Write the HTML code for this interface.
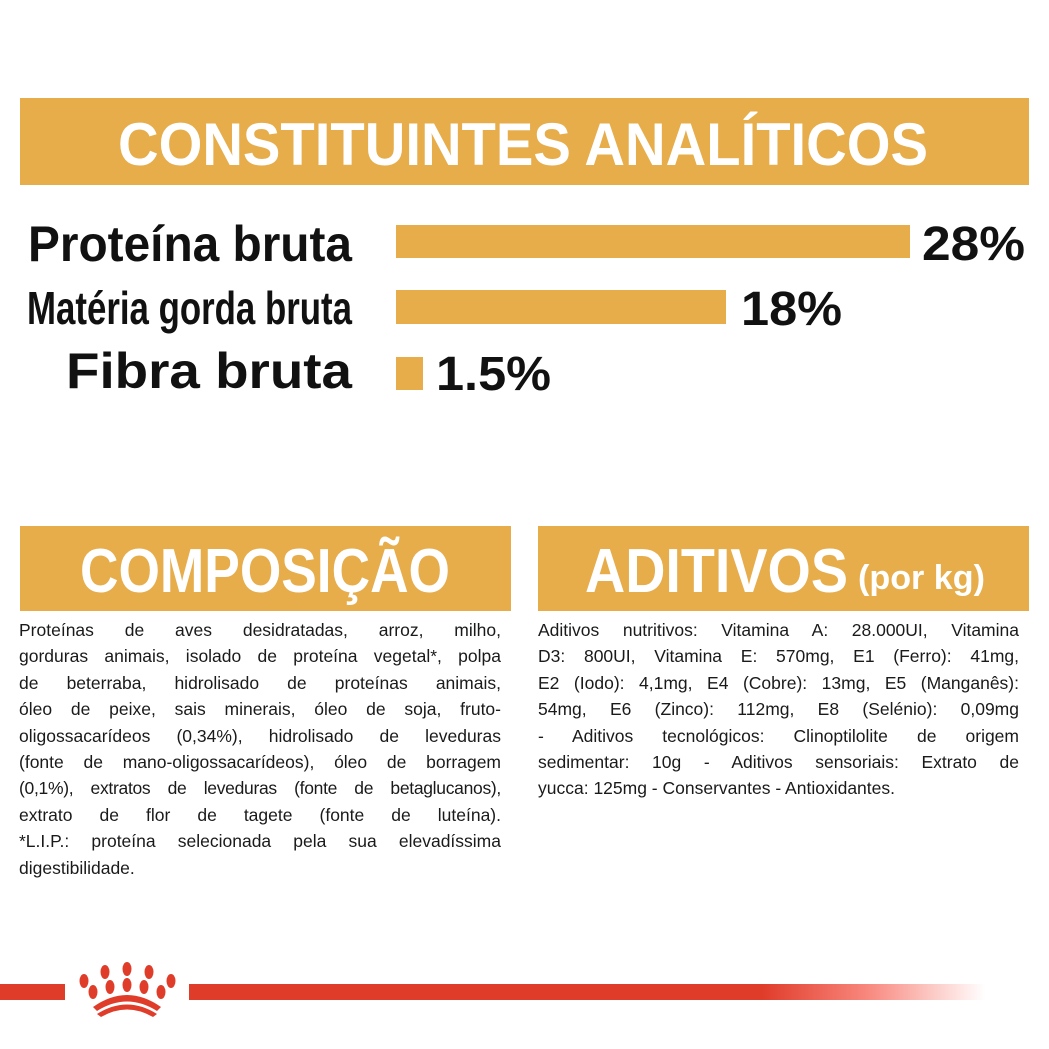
<!DOCTYPE html>
<html><head><meta charset="utf-8">
<style>
html,body{margin:0;padding:0;background:#fff;}
body{width:1049px;height:1049px;position:relative;overflow:hidden;font-family:"Liberation Sans",sans-serif;}
svg{position:absolute;left:0;top:0;}
.txt{position:absolute;font-size:17.5px;line-height:26.4px;color:#1a1a1a;}
.txt div{text-align:justify;text-align-last:justify;white-space:nowrap;}
.txt div.l{text-align-last:left;}
</style></head><body>
<svg width="1049" height="1049" viewBox="0 0 1049 1049">
<defs><linearGradient id="g" x1="0" x2="1"><stop offset="0" stop-color="#e03c2a"/><stop offset="0.72" stop-color="#e03c2a"/><stop offset="0.85" stop-color="#f8867c"/><stop offset="1" stop-color="#fff"/></linearGradient></defs>
<rect x="20" y="98" width="1009" height="87" fill="#E6AD4A"/>
<text x="118" y="165" textLength="810" lengthAdjust="spacingAndGlyphs" font-family="Liberation Sans" font-weight="bold" font-size="60" fill="#fff">CONSTITUINTES ANALÍTICOS</text>
<g font-family="Liberation Sans" font-weight="bold" fill="#111">
<text x="28" y="261" textLength="324" lengthAdjust="spacingAndGlyphs" font-size="50">Proteína bruta</text>
<text x="27" y="324" textLength="325" lengthAdjust="spacingAndGlyphs" font-size="46">Matéria gorda bruta</text>
<text x="66" y="388" textLength="286" lengthAdjust="spacingAndGlyphs" font-size="50">Fibra bruta</text>
<text x="922" y="260" textLength="103" lengthAdjust="spacingAndGlyphs" font-size="48">28%</text>
<text x="741" y="325" textLength="101" lengthAdjust="spacingAndGlyphs" font-size="48">18%</text>
<text x="436" y="390" textLength="115" lengthAdjust="spacingAndGlyphs" font-size="48">1.5%</text>
</g>
<rect x="396" y="225" width="514" height="33" fill="#E6AD4A"/>
<rect x="396" y="290" width="330" height="34" fill="#E6AD4A"/>
<rect x="396" y="357" width="27" height="33" fill="#E6AD4A"/>
<rect x="20" y="526" width="491" height="85" fill="#E6AD4A"/>
<rect x="538" y="526" width="491" height="85" fill="#E6AD4A"/>
<g font-family="Liberation Sans" font-weight="bold" fill="#fff">
<text x="80" y="592" textLength="370" lengthAdjust="spacingAndGlyphs" font-size="62">COMPOSIÇÃO</text>
<text x="585" y="592" textLength="263" lengthAdjust="spacingAndGlyphs" font-size="62">ADITIVOS</text>
<text x="858" y="589" textLength="127" lengthAdjust="spacingAndGlyphs" font-size="34">(por kg)</text>
</g>
<rect x="0" y="984" width="65" height="16" fill="#e03c2a"/>
<rect x="189" y="984" width="796" height="16" fill="url(#g)"/>
<g fill="#e03c2a">
<ellipse cx="105" cy="972" rx="4.5" ry="7"/>
<ellipse cx="127" cy="969" rx="4.5" ry="7"/>
<ellipse cx="149" cy="972" rx="4.5" ry="7"/>
<ellipse cx="84" cy="981" rx="4.5" ry="7"/>
<ellipse cx="171" cy="981" rx="4.5" ry="7"/>
<ellipse cx="93" cy="992" rx="4.5" ry="7"/>
<ellipse cx="110" cy="987" rx="4.5" ry="7"/>
<ellipse cx="127" cy="985" rx="4.5" ry="7"/>
<ellipse cx="144" cy="987" rx="4.5" ry="7"/>
<ellipse cx="161" cy="992" rx="4.5" ry="7"/>
<path d="M93 1007 Q127 983 161 1007 L157 1011 Q127 992 97 1011 Z"/>
<path d="M97 1014 Q127 995 157 1014 L153 1017 Q127 1002 101 1017 Z"/>
</g>
</svg>
<div class="txt" style="left:19px;top:617px;width:482px;">
<div>Proteínas de aves desidratadas, arroz, milho,</div>
<div>gorduras animais, isolado de proteína vegetal*, polpa</div>
<div>de beterraba, hidrolisado de proteínas animais,</div>
<div>óleo de peixe, sais minerais, óleo de soja, fruto-</div>
<div>oligossacarídeos (0,34%), hidrolisado de leveduras</div>
<div>(fonte de mano-oligossacarídeos), óleo de borragem</div>
<div style="letter-spacing:-0.3px">(0,1%), extratos de leveduras (fonte de betaglucanos),</div>
<div>extrato de flor de tagete (fonte de luteína).</div>
<div>*L.I.P.: proteína selecionada pela sua elevadíssima</div>
<div class="l">digestibilidade.</div>
</div>
<div class="txt" style="left:538px;top:617px;width:481px;">
<div>Aditivos nutritivos: Vitamina A: 28.000UI, Vitamina</div>
<div>D3: 800UI, Vitamina E: 570mg, E1 (Ferro): 41mg,</div>
<div>E2 (Iodo): 4,1mg, E4 (Cobre): 13mg, E5 (Manganês):</div>
<div>54mg, E6 (Zinco): 112mg, E8 (Selénio): 0,09mg</div>
<div>- Aditivos tecnológicos: Clinoptilolite de origem</div>
<div>sedimentar: 10g - Aditivos sensoriais: Extrato de</div>
<div class="l">yucca: 125mg - Conservantes - Antioxidantes.</div>
</div>
</body></html>
